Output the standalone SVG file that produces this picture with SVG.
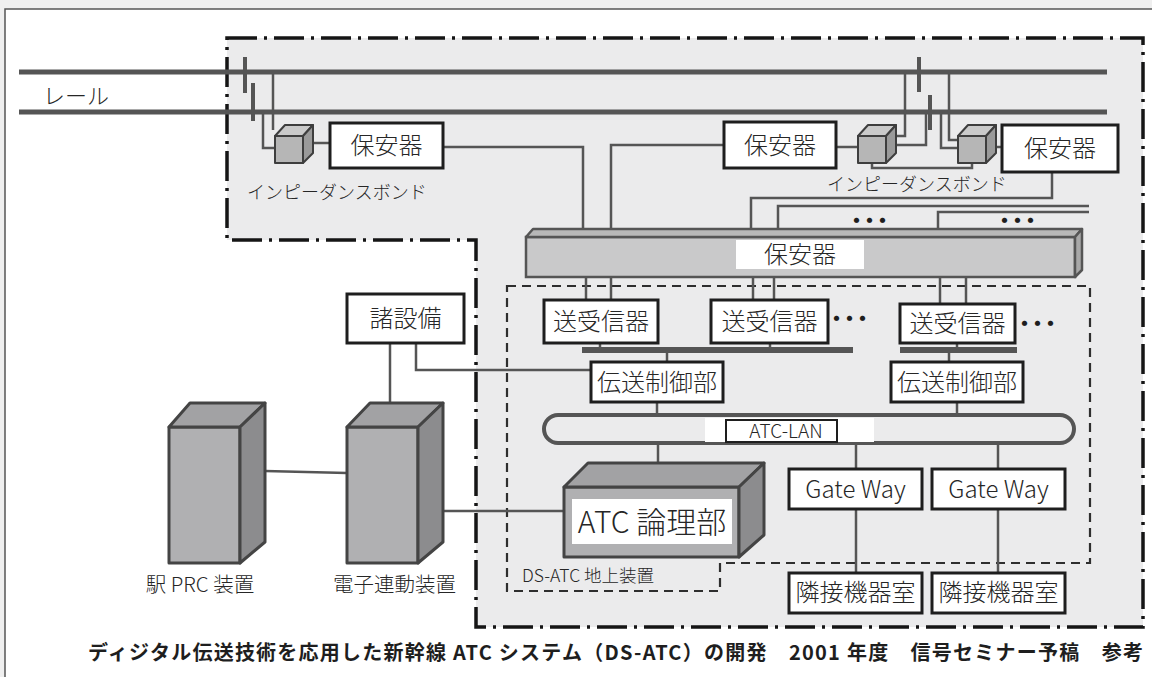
<svg xmlns="http://www.w3.org/2000/svg" width="1152" height="677" viewBox="0 0 1152 677">
  <defs>
    <style>
      text { font-family: "Noto Sans CJK JP", "Noto Sans", sans-serif; fill: #262626; font-weight: 300; }
      .box { fill: #ffffff; stroke: #1e1e1e; stroke-width: 3; }
      .lbl { font-size: 24px; text-anchor: middle; }
      .dots { font-size: 19px; font-weight: 900; letter-spacing: -6px; fill: #1e1e1e; }
      .caption { font-size: 20px; font-weight: 700; fill: #1e1e1e; }
      .wire { fill: none; stroke: #555555; stroke-width: 2.5; }
      .rail { stroke: #555555; stroke-width: 5; }
      .tick { stroke: #555555; stroke-width: 4; }
      .bus { fill: #555555; }
      .zone { fill: #ebebec; stroke: #151515; stroke-width: 3.5; stroke-dasharray: 30 7 3 7; }
      .unit { fill: none; stroke: #2e2e2e; stroke-width: 2.2; stroke-dasharray: 9 6; }
      .front { fill: #b0b0b2; stroke: #444444; stroke-width: 3; stroke-linejoin: round; }
      .top { fill: #a2a2a4; stroke: #444444; stroke-width: 3; stroke-linejoin: round; }
      .side { fill: #8c8c8e; stroke: #444444; stroke-width: 3; stroke-linejoin: round; }
      .cf { fill: #b6b6b6; stroke: #3e3e3e; stroke-width: 2; stroke-linejoin: round; }
      .ct { fill: #cacaca; stroke: #3e3e3e; stroke-width: 2; stroke-linejoin: round; }
      .cs { fill: #9a9a9a; stroke: #3e3e3e; stroke-width: 2; stroke-linejoin: round; }
    </style>
  </defs>

  <!-- page and frame -->
  <rect x="0" y="0" width="1152" height="677" fill="#efefef"/>
  <rect x="5" y="9" width="1147" height="668" fill="#ffffff"/>
  <path d="M5,677 V9 H1152" fill="none" stroke="#555" stroke-width="1.5"/>

  <!-- wayside zone (dash-dot) -->
  <path class="zone" d="M227,38 H1143 V627 H476 V240 H227 Z"/>
  <!-- DS-ATC ground unit (dashed) -->
  <path class="unit" d="M507,286 H1090 V563 H720 V591 H507 Z"/>

  <!-- rails -->
  <g id="rails">
    <line class="rail" x1="19" y1="72" x2="1107" y2="72"/>
    <line class="rail" x1="19" y1="112" x2="1107" y2="112"/>
    <line class="tick" x1="245" y1="57" x2="245" y2="93"/>
    <line class="tick" x1="253" y1="83" x2="253" y2="121"/>
    <line class="tick" x1="919" y1="57" x2="919" y2="92"/>
    <line class="tick" x1="930" y1="95" x2="930" y2="130"/>
    <text x="43" y="104" font-size="22">レール</text>
  </g>

  <!-- connectors -->
  <g id="connectors">
    <!-- left bond -->
    <polyline class="wire" points="273,72 273,130"/>
    <polyline class="wire" points="263,112 263,148 276,148"/>
    <line class="wire" x1="313" y1="143" x2="330" y2="143"/>
    <polyline class="wire" points="443,147 583,147 583,229"/>
    <!-- right bonds -->
    <polyline class="wire" points="724,145 611,145 611,229"/>
    <line class="wire" x1="836" y1="147" x2="858" y2="147"/>
    <polyline class="wire" points="895,136 905,136 905,72"/>
    <polyline class="wire" points="895,145 926,145 926,112"/>
    <polyline class="wire" points="941,112 941,148 958,148"/>
    <polyline class="wire" points="949,72 949,140 958,140"/>
    <polyline class="wire" points="872,163 872,168 972,168 972,163"/>
    <line class="wire" x1="995" y1="147" x2="1002" y2="147"/>
    <polyline class="wire" points="1052,172 1052,198 751,198 751,229"/>
    <polyline class="wire" points="778,229 778,206 1089,206"/>
    <polyline class="wire" points="938,229 938,212 1089,212"/>
    <!-- rack to transceivers -->
    <line class="wire" x1="586" y1="277" x2="586" y2="300"/>
    <line class="wire" x1="611" y1="277" x2="611" y2="300"/>
    <line class="wire" x1="753" y1="277" x2="753" y2="300"/>
    <line class="wire" x1="774" y1="277" x2="774" y2="300"/>
    <line class="wire" x1="940" y1="276" x2="940" y2="304"/>
    <line class="wire" x1="966" y1="276" x2="966" y2="304"/>
    <!-- transceivers to buses -->
    <line class="wire" x1="600" y1="343" x2="600" y2="348"/>
    <line class="wire" x1="770" y1="343" x2="770" y2="348"/>
    <line class="wire" x1="957" y1="343" x2="957" y2="348"/>
    <rect class="bus" x="582" y="347" width="271" height="6"/>
    <rect class="bus" x="900" y="347" width="117" height="6"/>
    <line class="wire" x1="667" y1="353" x2="667" y2="362"/>
    <line class="wire" x1="949" y1="353" x2="949" y2="362"/>
    <!-- controllers to LAN -->
    <line class="wire" x1="657" y1="402" x2="657" y2="415"/>
    <line class="wire" x1="957" y1="402" x2="957" y2="415"/>
    <!-- LAN to logic and gateways -->
    <line class="wire" x1="658" y1="443" x2="658" y2="463"/>
    <line class="wire" x1="856" y1="443" x2="856" y2="469"/>
    <line class="wire" x1="998" y1="443" x2="998" y2="469"/>
    <line class="wire" x1="856" y1="509" x2="856" y2="573"/>
    <line class="wire" x1="998" y1="509" x2="998" y2="573"/>
    <!-- station equipment -->
    <polyline class="wire" points="416,343 416,370 591,370"/>
    <line class="wire" x1="390" y1="343" x2="390" y2="403"/>
    <line class="wire" x1="265" y1="471" x2="347" y2="473"/>
    <line class="wire" x1="443" y1="511" x2="564" y2="511"/>
  </g>

  <!-- impedance bonds -->
  <g id="bond-left">
    <rect class="cf" x="275" y="136" width="28" height="27"/>
    <polygon class="ct" points="275,136 285,125 313,125 303,136"/>
    <polygon class="cs" points="303,136 313,125 313,153 303,163"/>
    <text x="247" y="199" font-size="18">インピーダンスボンド</text>
  </g>
  <g id="bond-right">
    <rect class="cf" x="858" y="136" width="28" height="27"/>
    <polygon class="ct" points="858,136 868,125 896,125 886,136"/>
    <polygon class="cs" points="886,136 896,125 896,153 886,163"/>
    <rect class="cf" x="958" y="136" width="28" height="27"/>
    <polygon class="ct" points="958,136 968,125 996,125 986,136"/>
    <polygon class="cs" points="986,136 996,125 996,153 986,163"/>
    <text x="827" y="191" font-size="18">インピーダンスボンド</text>
  </g>

  <!-- arresters -->
  <g id="arrester-1">
    <rect class="box" x="330" y="123" width="113" height="45"/>
    <text class="lbl" x="386.5" y="154">保安器</text>
  </g>
  <g id="arrester-2">
    <rect class="box" x="724" y="122" width="112" height="46"/>
    <text class="lbl" x="780" y="153.5">保安器</text>
  </g>
  <g id="arrester-3">
    <rect class="box" x="1002" y="125" width="116" height="47"/>
    <text class="lbl" x="1060" y="157">保安器</text>
  </g>
  <g id="dots">
    <text class="dots" x="847" y="228">・・・</text>
    <text class="dots" x="995" y="228">・・・</text>
  </g>

  <!-- arrester rack -->
  <g id="arrester-rack">
    <rect x="526" y="237" width="549" height="40" fill="#c9c9ca" stroke="#555" stroke-width="2.5"/>
    <polygon points="526,237 533,229 1082,229 1075,237" fill="#b8b8b8" stroke="#555" stroke-width="2.5" stroke-linejoin="round"/>
    <polygon points="1075,237 1082,229 1082,270 1075,277" fill="#a8a8a8" stroke="#555" stroke-width="2.5" stroke-linejoin="round"/>
    <rect x="736" y="240" width="128" height="29" fill="#ffffff"/>
    <text class="lbl" x="800" y="263" font-size="23">保安器</text>
  </g>

  <!-- transceivers -->
  <g id="trx-1">
    <rect class="box" x="544" y="300" width="114" height="43"/>
    <text class="lbl" x="601" y="330">送受信器</text>
  </g>
  <g id="trx-2">
    <rect class="box" x="711" y="300" width="117" height="43"/>
    <text class="lbl" x="769.5" y="330">送受信器</text>
    <text class="dots" x="827" y="326">・・・</text>
  </g>
  <g id="trx-3">
    <rect class="box" x="900" y="304" width="115" height="39"/>
    <text class="lbl" x="957.5" y="332">送受信器</text>
    <text class="dots" x="1015" y="331">・・・</text>
  </g>

  <!-- transmission controllers -->
  <g id="ctrl-1">
    <rect class="box" x="591" y="362" width="132" height="40"/>
    <text class="lbl" x="657" y="390.5">伝送制御部</text>
  </g>
  <g id="ctrl-2">
    <rect class="box" x="891" y="362" width="132" height="40"/>
    <text class="lbl" x="957" y="390.5">伝送制御部</text>
  </g>

  <!-- station facilities -->
  <g id="facilities">
    <rect class="box" x="347" y="294" width="117" height="49"/>
    <text class="lbl" x="405.5" y="327" font-size="25">諸設備</text>
  </g>

  <!-- ATC-LAN -->
  <g id="atc-lan">
    <rect x="544" y="415" width="530" height="28" rx="14" fill="#ebebec" stroke="#555" stroke-width="4"/>
    <rect x="705" y="418" width="169" height="24" fill="#ffffff"/>
    <rect x="726" y="420" width="111" height="22" fill="#ffffff" stroke="#1e1e1e" stroke-width="2"/>
    <text x="786" y="438" font-size="19" text-anchor="middle">ATC-LAN</text>
  </g>

  <!-- ATC logic unit -->
  <g id="atc-logic">
    <rect class="front" x="564" y="487" width="175" height="70"/>
    <polygon class="top" points="564,487 588,463 764,463 739,487"/>
    <polygon class="side" points="739,487 764,463 764,535 739,557"/>
    <rect x="572" y="499" width="160" height="45" fill="#ffffff"/>
    <text x="652" y="533" font-size="30" text-anchor="middle">ATC 論理部</text>
  </g>
  <text x="522" y="582" font-size="17.5">DS-ATC 地上装置</text>

  <!-- gateways -->
  <g id="gateway-1">
    <rect class="box" x="789" y="469" width="133" height="40"/>
    <text class="lbl" x="855.5" y="497.5" font-size="23">Gate Way</text>
  </g>
  <g id="gateway-2">
    <rect class="box" x="932" y="469" width="133" height="40"/>
    <text class="lbl" x="998.5" y="497.5" font-size="23">Gate Way</text>
  </g>

  <!-- adjacent equipment rooms -->
  <g id="room-1">
    <rect class="box" x="789" y="573" width="133" height="40"/>
    <text class="lbl" x="855.5" y="600.5" font-size="21">隣接機器室</text>
  </g>
  <g id="room-2">
    <rect class="box" x="932" y="573" width="133" height="40"/>
    <text class="lbl" x="998.5" y="600.5" font-size="21">隣接機器室</text>
  </g>

  <!-- station PRC cabinet -->
  <g id="station-prc">
    <rect class="front" x="169" y="427" width="71" height="136"/>
    <polygon class="top" points="169,427 190,403 265,403 240,427"/>
    <polygon class="side" points="240,427 265,403 265,542 240,563"/>
    <text x="200" y="592" font-size="20.5" text-anchor="middle">駅 PRC 装置</text>
  </g>

  <!-- electronic interlocking cabinet -->
  <g id="interlocking">
    <rect class="front" x="347" y="427" width="71" height="136"/>
    <polygon class="top" points="347,427 370,403 443,403 418,427"/>
    <polygon class="side" points="418,427 443,403 443,542 418,563"/>
    <text x="394.5" y="592" font-size="20.5" text-anchor="middle">電子連動装置</text>
  </g>

  <!-- caption -->
  <text class="caption" x="88" y="660" textLength="1055" lengthAdjust="spacing">ディジタル伝送技術を応用した新幹線 ATC システム（DS-ATC）の開発　2001 年度　信号セミナー予稿　参考</text>
</svg>
